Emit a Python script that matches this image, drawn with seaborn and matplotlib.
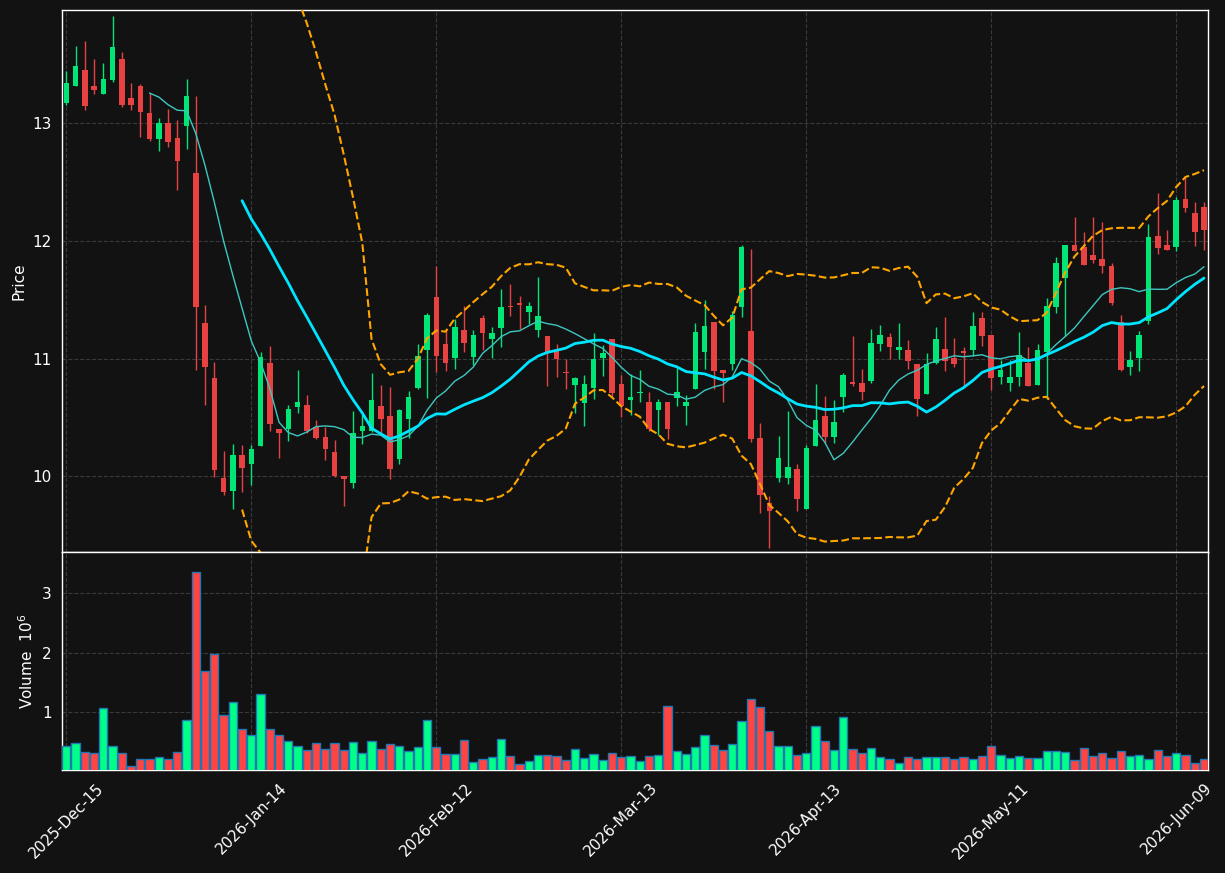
import pandas as pd
import numpy as np
import matplotlib.pyplot as plt
import seaborn as sns

# daily OHLC (124 sessions), volume in millions
opens = [13.175, 13.321, 13.454, 13.318, 13.252, 13.371, 13.546, 13.214, 13.318, 13.089,
         12.869, 13.003, 12.875, 12.973, 12.578, 11.304, 10.835, 9.985, 9.870, 10.181,
         10.107, 10.253, 10.962, 10.401, 10.401, 10.591, 10.606, 10.419, 10.333, 10.208,
         10.003, 9.944, 10.386, 10.380, 10.597, 10.514, 10.149, 10.490, 10.752, 11.069,
         11.524, 11.123, 11.001, 11.245, 11.016, 11.346, 11.170, 11.262, 11.450, 11.470,
         11.399, 11.239, 11.191, 11.069, 10.882, 10.778, 10.618, 10.752, 11.001, 11.167,
         10.784, 10.651, 10.704, 10.633, 10.559, 10.633, 10.663, 10.600, 10.737, 11.052,
         11.313, 10.900, 10.951, 11.435, 11.236, 10.327, 9.774, 9.986, 9.980, 10.063,
         9.718, 10.253, 10.514, 10.333, 10.677, 10.802, 10.793, 10.811, 11.120, 11.179,
         11.075, 11.072, 10.954, 10.701, 10.966, 11.081, 11.007, 11.058, 11.075, 11.346,
         11.200, 10.844, 10.793, 10.847, 10.962, 10.778, 11.055, 11.435, 11.684, 11.966,
         11.949, 11.880, 11.848, 11.788, 11.313, 10.930, 11.007, 11.322, 12.044, 11.966,
         11.949, 12.355, 12.237, 12.290]
highs = [13.442, 13.653, 13.704, 13.543, 13.514, 13.909, 13.603, 13.341, 13.333, 13.261,
         13.041, 13.119, 13.027, 13.374, 13.229, 11.453, 10.968, 10.214, 10.273, 10.267,
         10.267, 11.055, 11.105, 10.401, 10.603, 10.900, 10.689, 10.475, 10.422, 10.306,
         10.003, 10.553, 10.529, 10.876, 10.772, 10.758, 10.573, 10.722, 11.123, 11.384,
         11.788, 11.248, 11.337, 11.450, 11.245, 11.366, 11.268, 11.592, 11.637, 11.530,
         11.479, 11.690, 11.191, 11.123, 10.995, 10.841, 10.858, 11.215, 11.114, 11.167,
         10.856, 10.870, 10.900, 10.713, 10.654, 10.633, 10.921, 10.689, 11.301, 11.494,
         11.313, 10.900, 11.408, 11.963, 11.931, 10.452, 9.828, 10.345, 10.553, 10.101,
         10.268, 10.787, 10.683, 10.645, 10.876, 11.188, 10.909, 11.254, 11.283, 11.215,
         11.304, 11.159, 10.954, 11.046, 11.268, 11.355, 11.173, 11.099, 11.393, 11.393,
         11.200, 10.989, 10.986, 11.224, 11.099, 11.123, 11.515, 11.862, 11.966, 12.204,
         12.073, 12.204, 12.159, 11.809, 11.372, 11.063, 11.233, 12.147, 12.406, 12.091,
         12.376, 12.540, 12.329, 12.329]
lows = [13.154, 13.321, 13.116, 13.246, 13.252, 13.347, 13.142, 13.116, 12.881, 12.851,
        12.762, 12.795, 12.436, 12.780, 10.900, 10.603, 9.991, 9.843, 9.724, 9.861,
        9.923, 10.253, 10.386, 10.158, 10.303, 10.535, 10.363, 10.312, 10.134, 9.991,
        9.742, 9.896, 10.276, 10.374, 10.371, 9.979, 10.107, 10.321, 10.737, 10.662,
        10.888, 10.891, 10.912, 11.055, 10.945, 11.069, 11.001, 11.099, 11.358, 11.254,
        11.292, 11.182, 10.763, 10.841, 10.743, 10.535, 10.425, 10.654, 10.850, 10.683,
        10.499, 10.520, 10.630, 10.386, 10.351, 10.318, 10.594, 10.437, 10.737, 10.909,
        10.737, 10.630, 10.900, 11.352, 10.288, 9.688, 9.391, 9.951, 9.933, 9.703,
        9.718, 10.253, 10.283, 10.279, 10.544, 10.767, 10.651, 10.790, 11.061, 10.995,
        10.995, 10.909, 10.511, 10.701, 10.957, 10.897, 10.927, 10.767, 11.025, 11.105,
        10.731, 10.787, 10.722, 10.767, 10.767, 10.778, 10.660, 11.384, 11.194, 11.916,
        11.797, 11.809, 11.723, 11.458, 10.891, 10.856, 10.897, 11.292, 11.892, 11.925,
        11.910, 12.248, 11.960, 11.922]
closes = [13.341, 13.487, 13.151, 13.285, 13.377, 13.647, 13.157, 13.157, 13.098, 12.869,
          13.003, 12.837, 12.682, 13.232, 11.441, 10.924, 10.048, 9.861, 10.181, 10.066,
          10.232, 11.016, 10.446, 10.363, 10.573, 10.633, 10.380, 10.327, 10.232, 10.003,
          9.979, 10.368, 10.428, 10.648, 10.487, 10.057, 10.564, 10.674, 11.022, 11.372,
          11.022, 10.965, 11.268, 11.129, 11.200, 11.221, 11.218, 11.438, 11.438, 11.458,
          11.447, 11.363, 11.055, 10.992, 10.873, 10.835, 10.784, 10.998, 11.049, 10.710,
          10.594, 10.677, 10.719, 10.401, 10.633, 10.404, 10.719, 10.633, 11.227, 11.277,
          10.897, 10.873, 11.372, 11.949, 10.312, 9.837, 9.703, 10.153, 10.075, 9.804,
          10.238, 10.476, 10.336, 10.461, 10.862, 10.784, 10.719, 11.132, 11.200, 11.102,
          11.102, 10.983, 10.660, 10.951, 11.167, 10.983, 10.954, 11.049, 11.277, 11.194,
          10.838, 10.903, 10.844, 11.031, 10.767, 11.072, 11.447, 11.812, 11.966, 11.916,
          11.797, 11.839, 11.788, 11.473, 10.906, 10.989, 11.200, 12.035, 11.940, 11.925,
          12.350, 12.281, 12.079, 12.097]
volumes = [0.441, 0.492, 0.339, 0.311, 1.068, 0.441, 0.311, 0.102, 0.220, 0.220,
           0.254, 0.220, 0.339, 0.864, 3.356, 1.695, 1.983, 0.955, 1.169, 0.712,
           0.610, 1.305, 0.712, 0.610, 0.525, 0.441, 0.373, 0.492, 0.390, 0.492,
           0.373, 0.508, 0.322, 0.525, 0.390, 0.475, 0.441, 0.356, 0.424, 0.864,
           0.424, 0.305, 0.305, 0.542, 0.169, 0.220, 0.254, 0.559, 0.271, 0.136,
           0.186, 0.288, 0.288, 0.271, 0.203, 0.390, 0.237, 0.305, 0.203, 0.322,
           0.254, 0.271, 0.186, 0.271, 0.288, 1.102, 0.356, 0.305, 0.424, 0.610,
           0.458, 0.373, 0.475, 0.847, 1.220, 1.085, 0.678, 0.441, 0.441, 0.288,
           0.322, 0.763, 0.525, 0.373, 0.915, 0.390, 0.322, 0.407, 0.254, 0.220,
           0.153, 0.254, 0.220, 0.254, 0.254, 0.254, 0.220, 0.254, 0.220, 0.271,
           0.441, 0.288, 0.237, 0.271, 0.237, 0.237, 0.356, 0.356, 0.339, 0.203,
           0.407, 0.271, 0.322, 0.237, 0.356, 0.271, 0.288, 0.220, 0.373, 0.271,
           0.322, 0.288, 0.153, 0.220]

holidays = ['2025-12-25', '2026-01-01', '2026-01-19', '2026-02-16', '2026-04-03', '2026-05-25']
dates = pd.bdate_range('2025-12-15', periods=len(closes), freq='C', holidays=holidays)

df = pd.DataFrame({'Open': opens, 'High': highs, 'Low': lows, 'Close': closes,
                   'Volume': volumes}, index=dates)
df['i'] = np.arange(len(df))
df['MA10'] = df['Close'].rolling(10).mean()
df['MA20'] = df['Close'].rolling(20).mean()
sd = df['Close'].rolling(20).std(ddof=0)
df['BB_up'] = df['MA20'] + 2 * sd
df['BB_lo'] = df['MA20'] - 2 * sd

up = df['Close'] >= df['Open']
bg = '#121212'

sns.set_theme(style='dark', rc={
    'figure.facecolor': bg, 'axes.facecolor': bg, 'axes.edgecolor': 'white',
    'axes.linewidth': 1.0, 'axes.labelcolor': 'white', 'text.color': 'white',
    'xtick.color': 'white', 'ytick.color': 'white',
    'grid.color': '#3a3a3a', 'grid.linestyle': '--', 'grid.linewidth': 0.8,
})
plt.rcParams['font.family'] = ['DejaVu Sans']

fig = plt.figure(figsize=(12.25, 8.73), dpi=100)
ax1 = fig.add_axes([0.0506, 0.3677, 0.9355, 0.6208])
ax2 = fig.add_axes([0.0506, 0.1180, 0.9355, 0.2497], sharex=ax1)

# candles
c_up, c_dn = '#00e676', '#e84142'
ccol = np.where(up, c_up, c_dn)
ax1.vlines(df['i'], df['Low'], df['High'], colors=ccol, linewidth=1.0, zorder=3)
body_lo = np.minimum(df['Open'], df['Close'])
body_h = np.maximum((df['Close'] - df['Open']).abs(), 0.012)
ax1.bar(df['i'], body_h, bottom=body_lo, width=0.6, color=ccol, linewidth=0, zorder=4)

# moving averages and bands
sns.lineplot(x=df['i'], y=df['MA10'], ax=ax1, color='#3cc8c0', linewidth=1.0, zorder=5)
sns.lineplot(x=df['i'], y=df['MA20'], ax=ax1, color='#00e5ff', linewidth=2.0, zorder=5)
sns.lineplot(x=df['i'], y=df['BB_up'], ax=ax1, color='#ffa500', linewidth=1.5,
             linestyle='--', zorder=5)
sns.lineplot(x=df['i'], y=df['BB_lo'], ax=ax1, color='#ffa500', linewidth=1.5,
             linestyle='--', zorder=5)

ax1.set_ylim(9.355, 13.963)
ax1.set_yticks([10, 11, 12, 13])
ax1.set_ylabel('Price', fontsize=11)
ax1.grid(True, axis='both')
ax1.tick_params(axis='x', labelbottom=False, length=0)
ax1.tick_params(axis='y', labelsize=11, length=4, direction='out')

# volume
vcol = np.where(up, '#00ff88', '#ff4444')
ax2.bar(df['i'], df['Volume'], width=0.9, color=vcol, edgecolor='#1f77b4',
        linewidth=1.0, zorder=3)
ax2.set_ylim(0.3 * df['Volume'].min(), 1.1 * df['Volume'].max())
ax2.set_yticks([1, 2, 3])
ax2.set_ylabel('Volume  $10^6$', fontsize=11)
ax2.grid(True, axis='both')
ax2.tick_params(axis='y', labelsize=11, length=4, direction='out')

ticks = df['i'].values[::20]
ax2.set_xticks(ticks)
ax2.set_xticklabels(df.index[::20].strftime('%Y-%b-%d'), rotation=45, fontsize=11)
ax2.tick_params(axis='x', length=4, direction='out')
ax1.set_xlim(-0.47, len(df) - 0.57)
ax1.set_xlabel('')
ax2.set_xlabel('')

fig.savefig('out.png', dpi=100, facecolor=bg)
